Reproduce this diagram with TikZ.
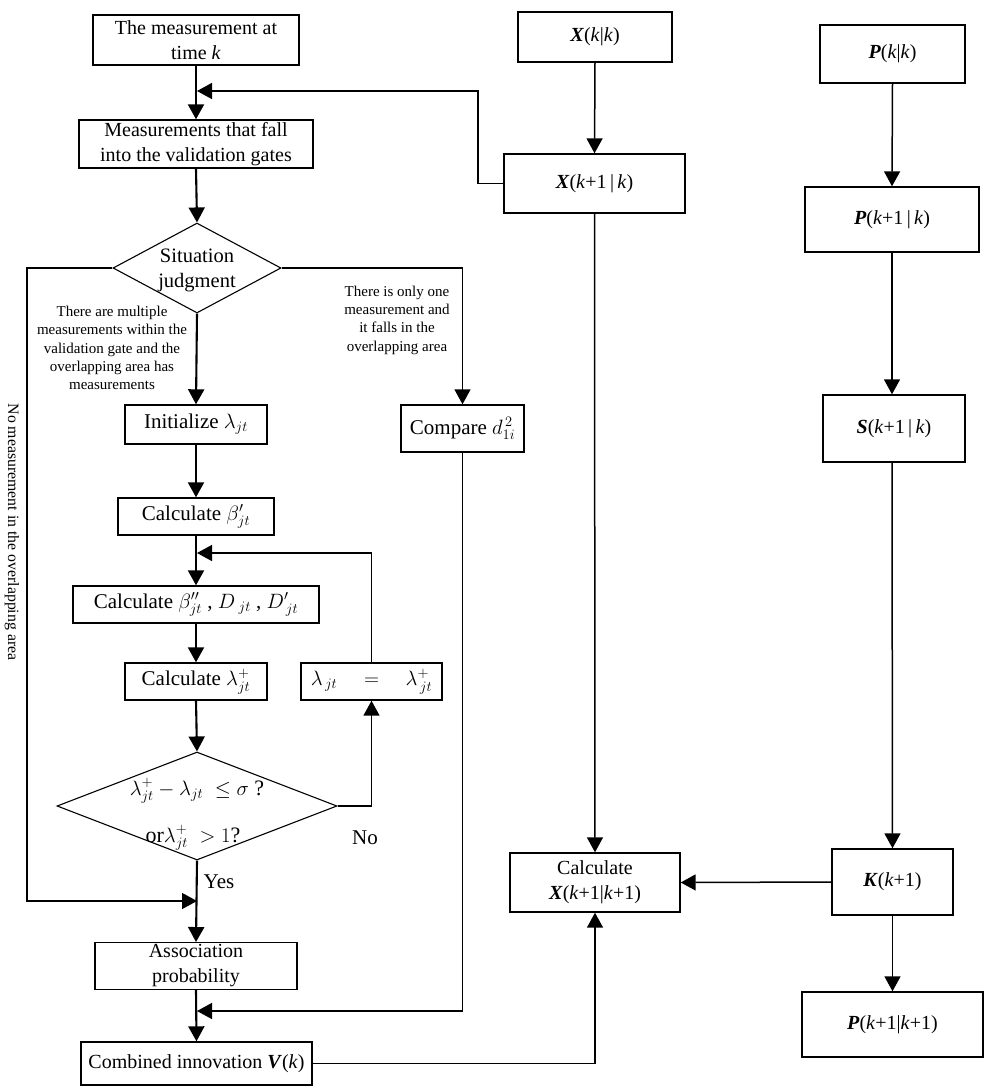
\documentclass[tikz,border=0pt]{standalone}
\usepackage{fontspec}
\setmainfont{Liberation Serif}
\usepackage{amsmath}
\usetikzlibrary{shapes.geometric,arrows.meta}
\begin{document}
\begin{tikzpicture}[x=1pt,y=-1pt,
 box/.style={draw,line width=1.4pt,inner sep=2pt,align=center,font=\fontsize{20}{25}\selectfont},
 fbox/.style={box,font=\fontsize{21}{25}\selectfont},
 dia/.style={draw,diamond,line width=1.1pt,inner sep=0pt},
 txt/.style={align=center,font=\fontsize{20.5}{25}\selectfont,inner sep=0pt},
 lbl/.style={align=center,font=\fontsize{15}{18.3}\selectfont,inner sep=0pt},
 arr/.style={-{Triangle[length=15pt,width=16pt]},line width=2.1pt},
 tarr/.style={-{Triangle[length=15pt,width=16pt]},line width=1.5pt},
]
\useasboundingbox[fill=white] (0,0) rectangle (1008,1088);

% left column
\node[box,minimum width=206pt,minimum height=50pt] (m1) at (196,40) {The measurement at\\time \textit{k}};
\node[box,minimum width=234pt,minimum height=48pt] (m2) at (196,144) {Measurements that fall\\into the validation gates};
\node[dia,minimum width=168pt,minimum height=90pt] (d1) at (197,268) {};
\node[txt] (d1t) at (197,270) {Situation\\judgment};
\node[fbox,minimum width=142pt,minimum height=39pt] (init) at (196,424.5) {Initialize $\lambda_{jt}$};
\node[fbox,minimum width=156pt,minimum height=37pt] (b1) at (196,516.5) {Calculate $\beta'_{jt}$};
\node[fbox,minimum width=246pt,minimum height=37pt] (b2) at (196,604.5) {Calculate $\beta''_{jt}$ , $D_{\;jt}$ , $D'_{\,jt}$};
\node[fbox,minimum width=142pt,minimum height=37pt] (lp) at (196,681.5) {Calculate $\lambda^{+}_{jt}$};
\node[fbox,minimum width=141pt,minimum height=37pt] (leq) at (371.5,681.5) {$\lambda_{\,jt}\quad=\quad\lambda^{+}_{\,jt}$};
\node[dia,minimum width=280pt,minimum height=108pt] (d2) at (197,806) {};
\node[txt,font=\fontsize{22}{26}\selectfont] (d2a) at (197,791) {$\lambda^{+}_{jt}-\lambda_{jt}\;\le\sigma$ ?};
\node[txt,font=\fontsize{22}{26}\selectfont] (d2b) at (193,838) {or$\lambda^{+}_{jt}\;>1$?};
\node[box,minimum width=202pt,minimum height=44pt] (assoc) at (196,966) {Association\\probability};
\node[box,minimum width=231pt,minimum height=43pt] (comb) at (196.5,1063.5) {Combined innovation \textbf{\textit{V}}(\textit{k})};
\node[fbox,minimum width=123pt,minimum height=47pt] (cmp) at (462.5,428.5) {Compare $d_{1i}^{\,2}$};

% labels
\node[lbl] (lab1) at (112,348) {There are multiple\\measurements within the\\validation gate and the\\overlapping area has\\measurements};
\node[lbl] (lab2) at (397,320) {There is only one\\measurement and\\it falls in the\\overlapping area};
\node[txt,font=\fontsize{21}{25}\selectfont] (no) at (365,838) {No};
\node[txt,font=\fontsize{21}{25}\selectfont] (yes) at (219,882) {Yes};
\node[lbl,rotate=-90,font=\fontsize{15.8}{18}\selectfont] (nom) at (12,532) {No measurement in the overlapping area};

% middle column
\node[box,minimum width=154pt,minimum height=50pt] (xkk) at (595,37) {\textbf{\textit{X}}(\textit{k}|\textit{k})};
\node[box,minimum width=181pt,minimum height=59pt] (xk1k) at (594.5,183.5) {\textbf{\textit{X}}(\textit{k}+1\,|\,\textit{k})};
\node[box,minimum width=170pt,minimum height=59pt] (calcx) at (595,882.5) {Calculate\\\textbf{\textit{X}}(\textit{k}+1|\textit{k}+1)};

% right column
\node[box,minimum width=145pt,minimum height=58pt] (pkk) at (892.5,54) {\textbf{\textit{P}}(\textit{k}|\textit{k})};
\node[box,minimum width=174pt,minimum height=65pt] (pk1k) at (892,219.5) {\textbf{\textit{P}}(\textit{k}+1\,|\,\textit{k})};
\node[box,minimum width=142pt,minimum height=67pt] (sk) at (894,428.5) {\textbf{\textit{S}}(\textit{k}+1\,|\,\textit{k})};
\node[box,minimum width=121pt,minimum height=66pt] (kk) at (892.5,882) {\textbf{\textit{K}}(\textit{k}+1)};
\node[box,minimum width=181pt,minimum height=65pt] (pk1k1) at (892.5,1024.5) {\textbf{\textit{P}}(\textit{k}+1|\textit{k}+1)};

% coordinates for joins
\coordinate (j1) at (197,91);
\coordinate (j2) at (197,901);
\coordinate (j3) at (197,553);
\coordinate (j4) at (197,1011);

% connectors left column
\draw[arr] (m1.south) -- (m2.north);
\draw[arr] (m2.south) -- (d1.north);
\draw[arr] (d1.south) -- (init.north);
\draw[arr] (init.south) -- (b1.north);
\draw[arr] (b1.south) -- (b2.north);
\draw[arr] (b2.south) -- (lp.north);
\draw[arr] (lp.south) -- (d2.north);
\draw[arr] (d2.south) -- (assoc.north);
\draw[arr] (assoc.south) -- (comb.north);

\draw[tarr] (xk1k.west) -- (478,183.5) -- (478,91) -- (j1);
\draw[tarr] (d1.west) -- (27,268) -- (27,901) -- (j2);
\draw[tarr] (d1.east) -- (462.5,268) -- (cmp.north);
\draw[tarr] (d2.east) -- (371.5,806) -- (leq.south);
\draw[tarr] (leq.north) -- (371.5,553) -- (j3);
\draw[tarr] (cmp.south) -- (462.5,1011) -- (j4);
\draw[tarr] (comb.east) -- (595,1063.5) -- (calcx.south);

% middle and right
\draw[tarr] (xkk.south) -- (xk1k.north);
\draw[tarr] (xk1k.south) -- (calcx.north);
\draw[tarr] (pkk.south) -- (pk1k.north);
\draw[tarr] (pk1k.south) -- (pk1k.south |- sk.north);
\draw[tarr] (sk.south -| pk1k.south) -- (kk.north);
\draw[tarr] (kk.south) -- (pk1k1.north);
\draw[tarr] (kk.west) -- (calcx.east);
\end{tikzpicture}
\end{document}
